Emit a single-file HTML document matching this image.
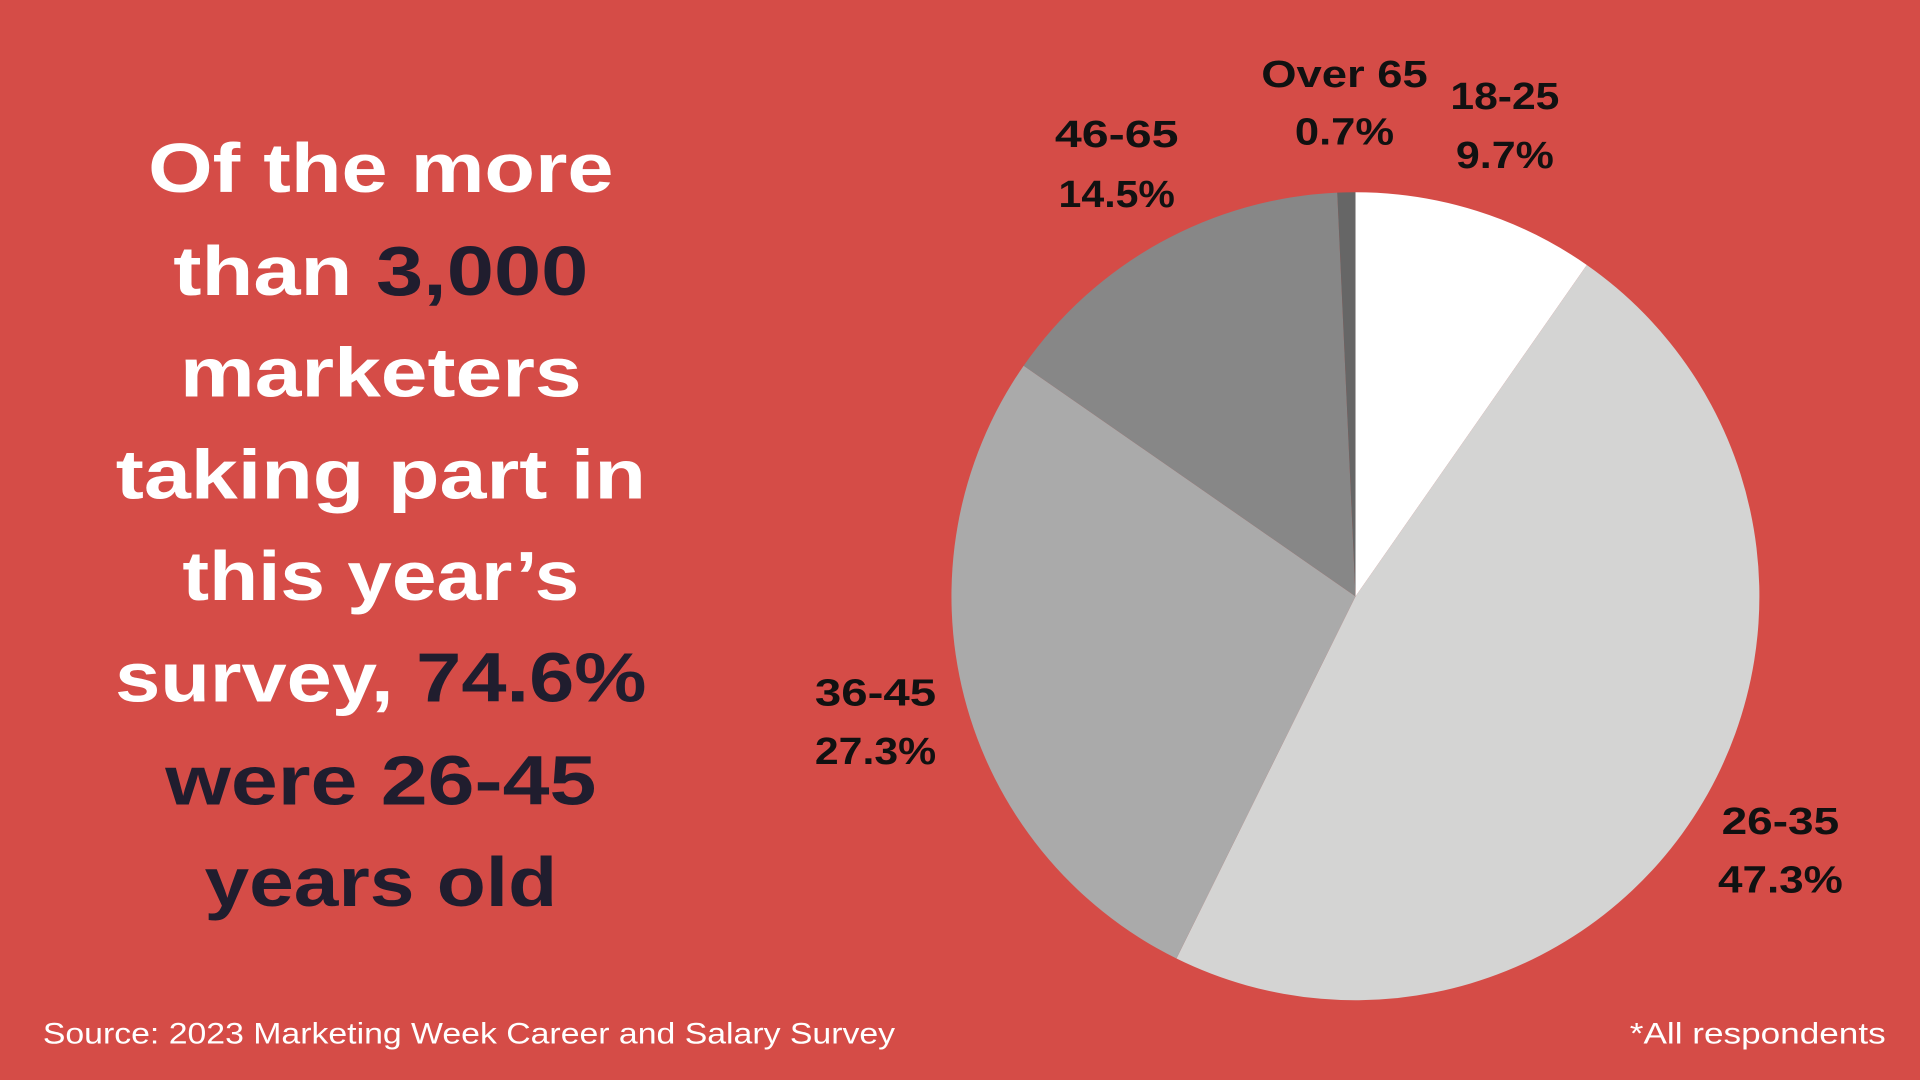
<!DOCTYPE html>
<html><head><meta charset="utf-8"><style>
html,body{margin:0;padding:0;background:#d54c47;}
svg{display:block}
</style></head><body>
<svg width="1920" height="1080" viewBox="0 0 1568 882" xmlns="http://www.w3.org/2000/svg">
<rect width="1568" height="882" fill="#d54c47"/>
<g stroke="none">
<path d="M1107 487 L1107 157 A330 330 0 0 1 1295.9 216.4 Z" fill="#ffffff"/>
<path d="M1107 487 L1295.9 216.4 A330 330 0 0 1 960.8 782.8 Z" fill="#d4d4d3"/>
<path d="M1107 487 L960.8 782.8 A330 330 0 0 1 836.0 298.7 Z" fill="#aaaaaa"/>
<path d="M1107 487 L836.0 298.7 A330 330 0 0 1 1092.1 157.3 Z" fill="#878787"/>
<path d="M1107 487 L1092.1 157.3 A330 330 0 0 1 1107 157 Z" fill="#666666"/>
</g>
<g font-family="Liberation Sans, sans-serif" font-weight="bold" font-size="57" text-anchor="middle" fill="#ffffff">
<text x="311" y="157" textLength="380" lengthAdjust="spacingAndGlyphs">Of the more</text>
<text x="311" y="241" textLength="339" lengthAdjust="spacingAndGlyphs">than <tspan fill="#201d2e">3,000</tspan></text>
<text x="311" y="324" textLength="328" lengthAdjust="spacingAndGlyphs">marketers</text>
<text x="311" y="407" textLength="433" lengthAdjust="spacingAndGlyphs">taking part in</text>
<text x="311" y="490" textLength="324" lengthAdjust="spacingAndGlyphs">this year’s</text>
<text x="311" y="573" textLength="434" lengthAdjust="spacingAndGlyphs">survey, <tspan fill="#201d2e">74.6%</tspan></text>
<text x="311" y="657" textLength="352" lengthAdjust="spacingAndGlyphs" fill="#201d2e">were 26-45</text>
<text x="311" y="740" textLength="288" lengthAdjust="spacingAndGlyphs" fill="#201d2e">years old</text>
</g>
<g font-family="Liberation Sans, sans-serif" font-weight="bold" font-size="31" fill="#111111" text-anchor="middle">
<text x="1098" y="71" textLength="136" lengthAdjust="spacingAndGlyphs">Over 65</text>
<text x="1098" y="118" textLength="81" lengthAdjust="spacingAndGlyphs">0.7%</text>
<text x="1229" y="89" textLength="89" lengthAdjust="spacingAndGlyphs">18-25</text>
<text x="1229" y="137" textLength="80" lengthAdjust="spacingAndGlyphs">9.7%</text>
<text x="912" y="120" textLength="101" lengthAdjust="spacingAndGlyphs">46-65</text>
<text x="912" y="169" textLength="95" lengthAdjust="spacingAndGlyphs">14.5%</text>
<text x="715" y="576" textLength="99" lengthAdjust="spacingAndGlyphs">36-45</text>
<text x="715" y="624" textLength="99" lengthAdjust="spacingAndGlyphs">27.3%</text>
<text x="1454" y="681" textLength="96" lengthAdjust="spacingAndGlyphs">26-35</text>
<text x="1454" y="729" textLength="102" lengthAdjust="spacingAndGlyphs">47.3%</text>
</g>
<g font-family="Liberation Sans, sans-serif" font-size="24" fill="#ffffff">
<text x="35" y="852" textLength="696" lengthAdjust="spacingAndGlyphs">Source: 2023 Marketing Week Career and Salary Survey</text>
<text x="1331" y="852" textLength="209" lengthAdjust="spacingAndGlyphs">*All respondents</text>
</g>
</svg>
</body></html>
